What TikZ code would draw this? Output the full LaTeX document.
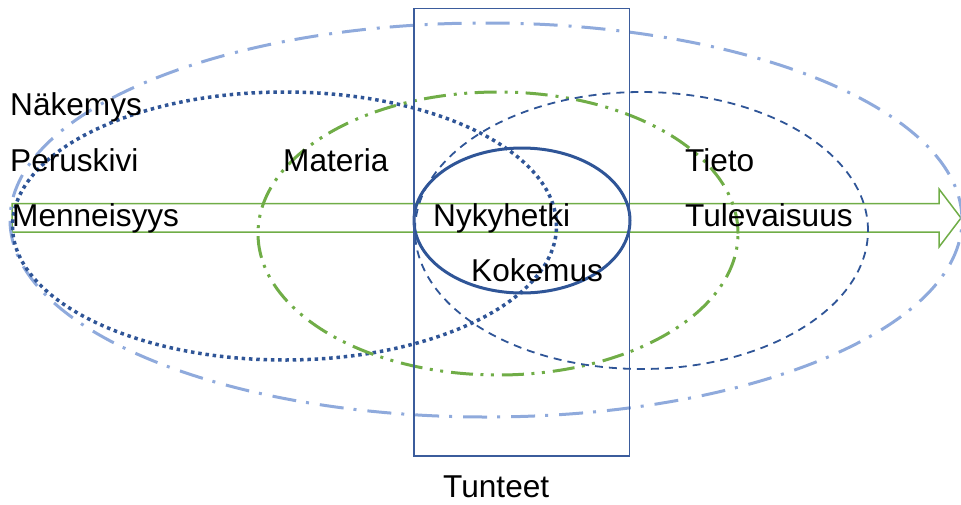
\documentclass[tikz,border=0pt]{standalone}
\usepackage{fontspec}
\setmainfont{Liberation Sans}
\definecolor{lblue}{HTML}{8FAADC}
\definecolor{dblue}{HTML}{2F5597}
\definecolor{rblue}{HTML}{3B5C9C}
\definecolor{lgreen}{HTML}{70AD47}
\begin{document}
\begin{tikzpicture}[x=1pt,y=-1pt,
  lbl/.style={anchor=base west,inner sep=0pt,font=\fontsize{31.6}{36}\selectfont,text=black},
  outerell/.style={draw=lblue,line width=3pt,dash pattern=on 24pt off 10pt on 3pt off 11pt},
  dotell/.style={draw=dblue,line width=3.5pt,dash pattern=on 3.5pt off 3.8pt},
  greenell/.style={draw=lgreen,line width=3pt,dash pattern=on 22pt off 7.5pt on 3pt off 7.5pt on 3pt off 8pt},
  dashell/.style={draw=dblue,line width=1.8pt,dash pattern=on 8pt off 6pt},
  solidell/.style={draw=dblue,line width=3pt},
  framebox/.style={draw=rblue,line width=1.5pt},
  arrowshape/.style={draw=lgreen,line width=1.5pt,line join=miter}]
\useasboundingbox (0,0) rectangle (961,504);
% arrow
\draw[arrowshape] (12,203.5) -- (939,203.5) -- (939,189) -- (961,218) -- (939,247) -- (939,232) -- (12,232) -- cycle;
% ellipses
\draw[outerell] (486,220) ellipse [x radius=476pt, y radius=197pt];
\draw[dotell] (284.5,226) ellipse [x radius=272pt, y radius=134pt];
\draw[greenell] (498,233.5) ellipse [x radius=240pt, y radius=141.5pt];
\draw[dashell] (641.5,230.5) ellipse [x radius=226.5pt, y radius=138.5pt];
\draw[solidell] (522,220.5) ellipse [x radius=108pt, y radius=72.5pt];
% frame
\draw[framebox] (414,8.5) rectangle (629.5,456);
% labels
\node[lbl] (nakemys) at (10,115) {Näkemys};
\node[lbl] (peruskivi) at (10,171) {Peruskivi};
\node[lbl] (menneisyys) at (12,226) {Menneisyys};
\node[lbl] (materia) at (283,171) {Materia};
\node[lbl] (nykyhetki) at (433,226) {Nykyhetki};
\node[lbl] (tieto) at (685,171) {Tieto};
\node[lbl] (tulevaisuus) at (685,226) {Tulevaisuus};
\node[lbl] (kokemus) at (471,281) {Kokemus};
\node[lbl] (tunteet) at (443,497) {Tunteet};
\end{tikzpicture}
\end{document}
